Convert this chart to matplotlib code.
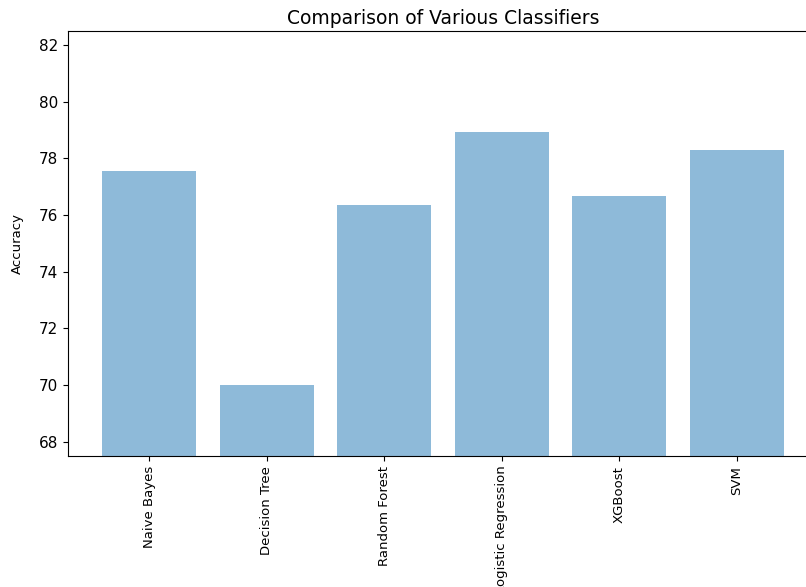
import matplotlib
matplotlib.use("Agg")
import matplotlib.pyplot as plt
import numpy as np

classifiers = ["Naive Bayes", "Decision Tree", "Random Forest",
               "Logistic Regression", "XGBoost", "SVM"]
accuracy = [77.55, 70.0, 76.35, 78.93, 76.66, 78.30]
y_ticks = [68, 70, 72, 74, 76, 78, 80, 82]

fig = plt.figure(figsize=(8.06, 5.87), dpi=100)
ax = fig.add_axes([0.0844, 0.2232, 0.93, 0.724])

pos = np.arange(len(classifiers))
ax.bar(pos, accuracy, align="center", alpha=0.5, width=0.8)
ax.set_xticks(pos)
ax.set_xticklabels(classifiers, rotation=90, fontsize=9.5)
ax.set_yticks(y_ticks)
ax.tick_params(axis="y", labelsize=11)
ax.set_ylim(67.5, 82.5)
ax.set_xlim(-0.69, len(classifiers) - 1 + 0.69)
ax.set_ylabel("Accuracy", fontsize=9.5, labelpad=11)
ax.set_title("Comparison of Various Classifiers", fontsize=13.5, pad=5)

fig.savefig("out.png", dpi=100)
